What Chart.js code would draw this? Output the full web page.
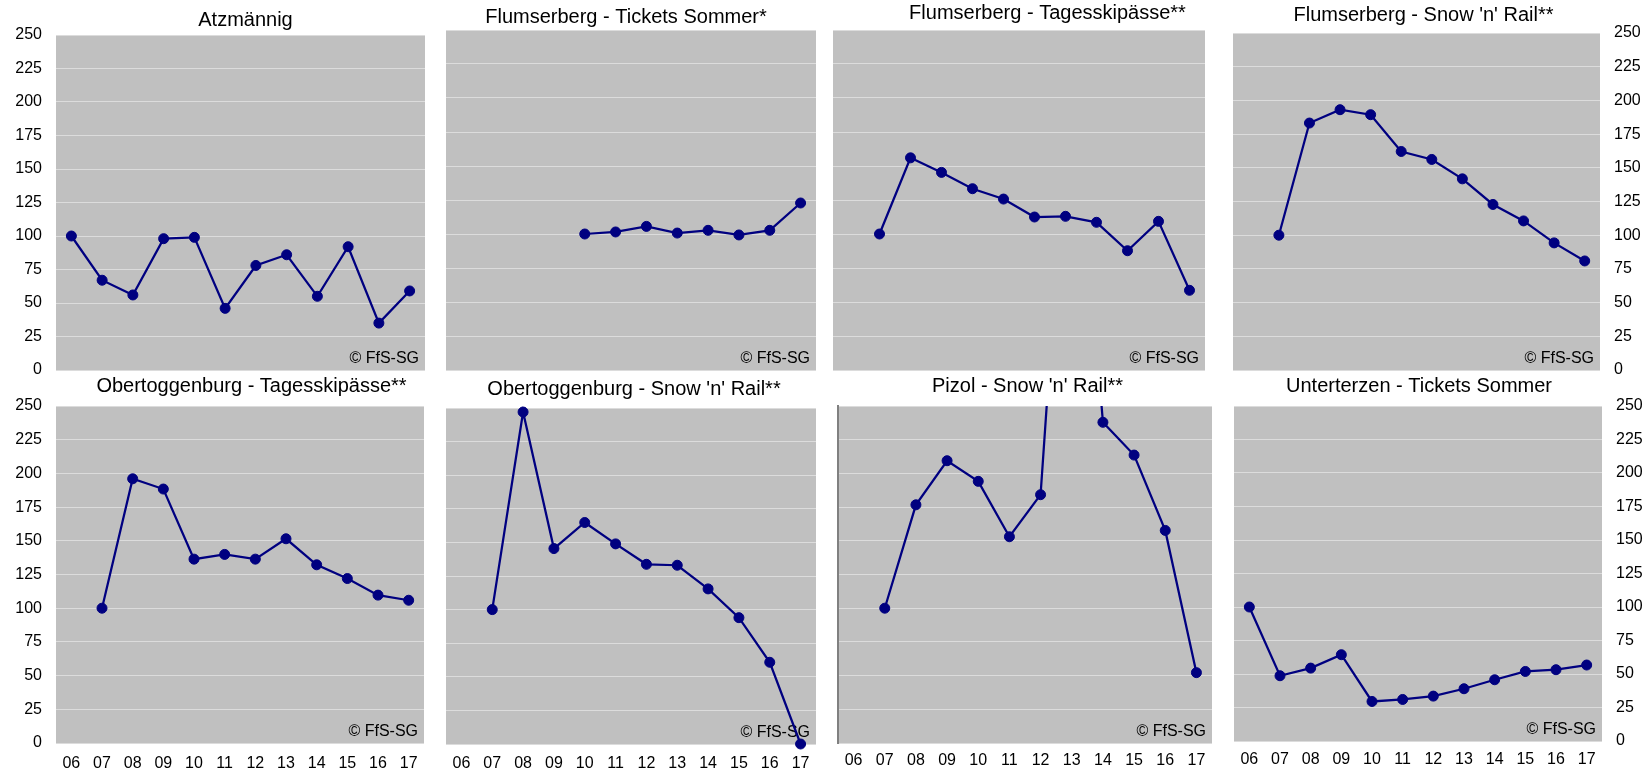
<!DOCTYPE html>
<html>
<head>
<meta charset="utf-8">
<script src="https://cdn.jsdelivr.net/npm/chart.js@4.4.0/dist/chart.umd.min.js"></script>
<style>
  html, body { margin: 0; padding: 0; background: #ffffff; width: 1647px; height: 771px; overflow: hidden; }
  .panel { position: absolute; }
</style>
</head>
<body>
<script>
// ---- data (index, first year = 100) ----
const years = ['06', '07', '08', '09', '10', '11', '12', '13', '14', '15', '16', '17'];
const yTicks = [0, 25, 50, 75, 100, 125, 150, 175, 200, 225, 250];

const atzmaennig          = [100, 67, 56, 98, 99, 46, 78, 86, 55, 92, 35, 59];
const flumsTicketsSommer  = [null, null, null, null, 100, 101.5, 105.6, 100.7, 102.7, 99.3, 102.7, 122.8];
const flumsTagesskipaesse = [null, 100, 156, 145.3, 133.3, 125.7, 112.5, 113, 108.6, 87.7, 109.3, 58.6];
const flumsSnowRail       = [null, 100, 183.2, 193.1, 189.4, 162.1, 156.2, 141.8, 122.8, 110.6, 94.3, 80.9];
const oberTagesskipaesse  = [null, 100, 196, 188.4, 136.4, 139.9, 136.4, 151.5, 132.2, 122, 109.7, 105.9];
const oberSnowRail        = [null, 100, 247, 145.4, 164.8, 148.9, 133.7, 133, 115.4, 94, 60.8, 0];
const pizolSnowRail       = [null, 100, 176.7, 209.4, 194.1, 153, 184.2, 520, 237.9, 213.6, 157.7, 52.2];
const unterterzenSommer   = [100, 48.7, 54.4, 64.4, 29.5, 31, 33.5, 39, 45.7, 51.9, 53.2, 56.7];

const titles = [
  'Atzmännig',
  'Flumserberg - Tickets Sommer*',
  'Flumserberg - Tagesskipässe**',
  "Flumserberg - Snow 'n' Rail**",
  'Obertoggenburg - Tagesskipässe**',
  "Obertoggenburg - Snow 'n' Rail**",
  "Pizol - Snow 'n' Rail**",
  'Unterterzen - Tickets Sommer'
];
const seriesList = [atzmaennig, flumsTicketsSommer, flumsTagesskipaesse, flumsSnowRail,
                    oberTagesskipaesse, oberSnowRail, pizolSnowRail, unterterzenSommer];
const watermark = '© FfS-SG';

// ---- layout (positions only) ----
const layoutSpec = [
  { L: 0,    R: 491,  T: 0,   H: 394, pL: 56,   pR: 425,  axis: 'left',   tp: [8.3, 2.7], xH: 0,  xp: 0 },
  { L: 426,  R: 826,  T: 0,   H: 394, pL: 446,  pR: 816,  axis: 'none',   tp: [5.5, 0.5], xH: 0,  xp: 0 },
  { L: 823,  R: 1272, T: 0,   H: 394, pL: 833,  pR: 1205, axis: 'none',   tp: [1.8, 4.2], xH: 0,  xp: 0 },
  { L: 1200, R: 1647, T: 0,   H: 394, pL: 1233, pR: 1600, axis: 'right',  tp: [3.8, 5.2], xH: 0,  xp: 0 },
  { L: 0,    R: 503,  T: 370, H: 401, pL: 56,   pR: 424,  axis: 'left',   tp: [4.8, 7.2], xH: 28, xp: 10.7 },
  { L: 436,  R: 832,  T: 370, H: 401, pL: 446,  pR: 816,  axis: 'none',   tp: [7.5, 6.5], xH: 27, xp: 9.7 },
  { L: 828,  R: 1227, T: 370, H: 401, pL: 838,  pR: 1212, axis: 'border', tp: [4.8, 7.2], xH: 28, xp: 8.2 },
  { L: 1191, R: 1647, T: 370, H: 401, pL: 1234, pR: 1602, axis: 'right',  tp: [4.8, 7.2], xH: 30, xp: 9.4 }
];

const FONT = "'Liberation Sans', Arial, Helvetica, sans-serif";
Chart.defaults.font.family = FONT;
Chart.defaults.font.size = 16;
Chart.defaults.color = '#000000';

const NAVY = '#000080';
const PLOT_BG = '#C0C0C0';
const GRID = '#DCDCDC';

const panelPlugin = {
  id: 'panelDecor',
  beforeDraw(chart) {
    const a = chart.chartArea;
    const ctx = chart.ctx;
    ctx.save();
    ctx.fillStyle = PLOT_BG;
    ctx.fillRect(a.left, a.top, a.right - a.left, a.bottom - a.top);
    ctx.restore();
  },
  beforeDatasetsDraw(chart) {
    const a = chart.chartArea;
    const ctx = chart.ctx;
    ctx.save();
    ctx.font = '16px ' + FONT;
    ctx.fillStyle = '#000000';
    ctx.textAlign = 'right';
    ctx.textBaseline = 'alphabetic';
    ctx.fillText(watermark, a.right - 6, a.bottom - 7);
    ctx.restore();
  }
};

layoutSpec.forEach((s, i) => {
  const div = document.createElement('div');
  div.className = 'panel';
  div.style.left = s.L + 'px';
  div.style.top = s.T + 'px';
  div.style.width = (s.R - s.L) + 'px';
  div.style.height = s.H + 'px';
  const canvas = document.createElement('canvas');
  div.appendChild(canvas);
  document.body.appendChild(div);

  const mainPos = s.axis === 'right' ? 'right' : 'left';
  const otherPos = mainPos === 'right' ? 'left' : 'right';
  const mainWidth = mainPos === 'left' ? (s.pL - s.L) : (s.R - s.pR);
  const otherWidth = mainPos === 'left' ? (s.R - s.pR) : (s.pL - s.L);
  const showTicks = (s.axis === 'left' || s.axis === 'right');

  new Chart(canvas, {
    type: 'line',
    data: {
      labels: years,
      datasets: [{
        data: seriesList[i],
        borderColor: NAVY,
        backgroundColor: NAVY,
        borderWidth: 2.25,
        pointRadius: 5,
        pointBorderWidth: 1,
        pointBackgroundColor: NAVY,
        pointBorderColor: NAVY,
        tension: 0,
        clip: (i === 6) ? { left: 10, right: 10, top: 0, bottom: 10 } : false
      }]
    },
    options: {
      responsive: true,
      maintainAspectRatio: false,
      animation: false,
      events: [],
      layout: { padding: { left: 0, right: 0, top: 0, bottom: s.xH ? 0 : 24 } },
      plugins: {
        legend: { display: false },
        tooltip: { enabled: false },
        title: {
          display: true,
          text: titles[i],
          color: '#000000',
          font: { size: 20, family: FONT, weight: 'normal', lineHeight: 1.2 },
          padding: { top: s.tp[0], bottom: s.tp[1] }
        }
      },
      scales: {
        x: {
          type: 'category',
          offset: true,
          display: s.xH > 0,
          grid: { display: false, drawTicks: false },
          border: { display: false },
          ticks: { display: true, padding: s.xp, maxRotation: 0, autoSkip: false, color: '#000000', font: { size: 16 } },
          afterFit: (scale) => { if (s.xH) scale.height = s.xH; }
        },
        y: {
          type: 'linear',
          position: mainPos,
          min: 0,
          max: 250,
          afterBuildTicks: (scale) => { scale.ticks = yTicks.map(v => ({ value: v })); },
          grid: { display: true, color: GRID, lineWidth: 1, drawTicks: false },
          border: s.axis === 'border'
            ? { display: true, color: '#808080', width: 2 }
            : { display: false },
          ticks: { display: showTicks, padding: 14, color: '#000000', font: { size: 16 } },
          afterFit: (scale) => { scale.width = mainWidth; }
        },
        yPad: {
          type: 'linear',
          position: otherPos,
          display: true,
          grid: { display: false, drawTicks: false },
          border: { display: false },
          ticks: { display: false },
          afterFit: (scale) => { scale.width = otherWidth; }
        }
      }
    },
    plugins: [panelPlugin]
  });
});
</script>
</body>
</html>
